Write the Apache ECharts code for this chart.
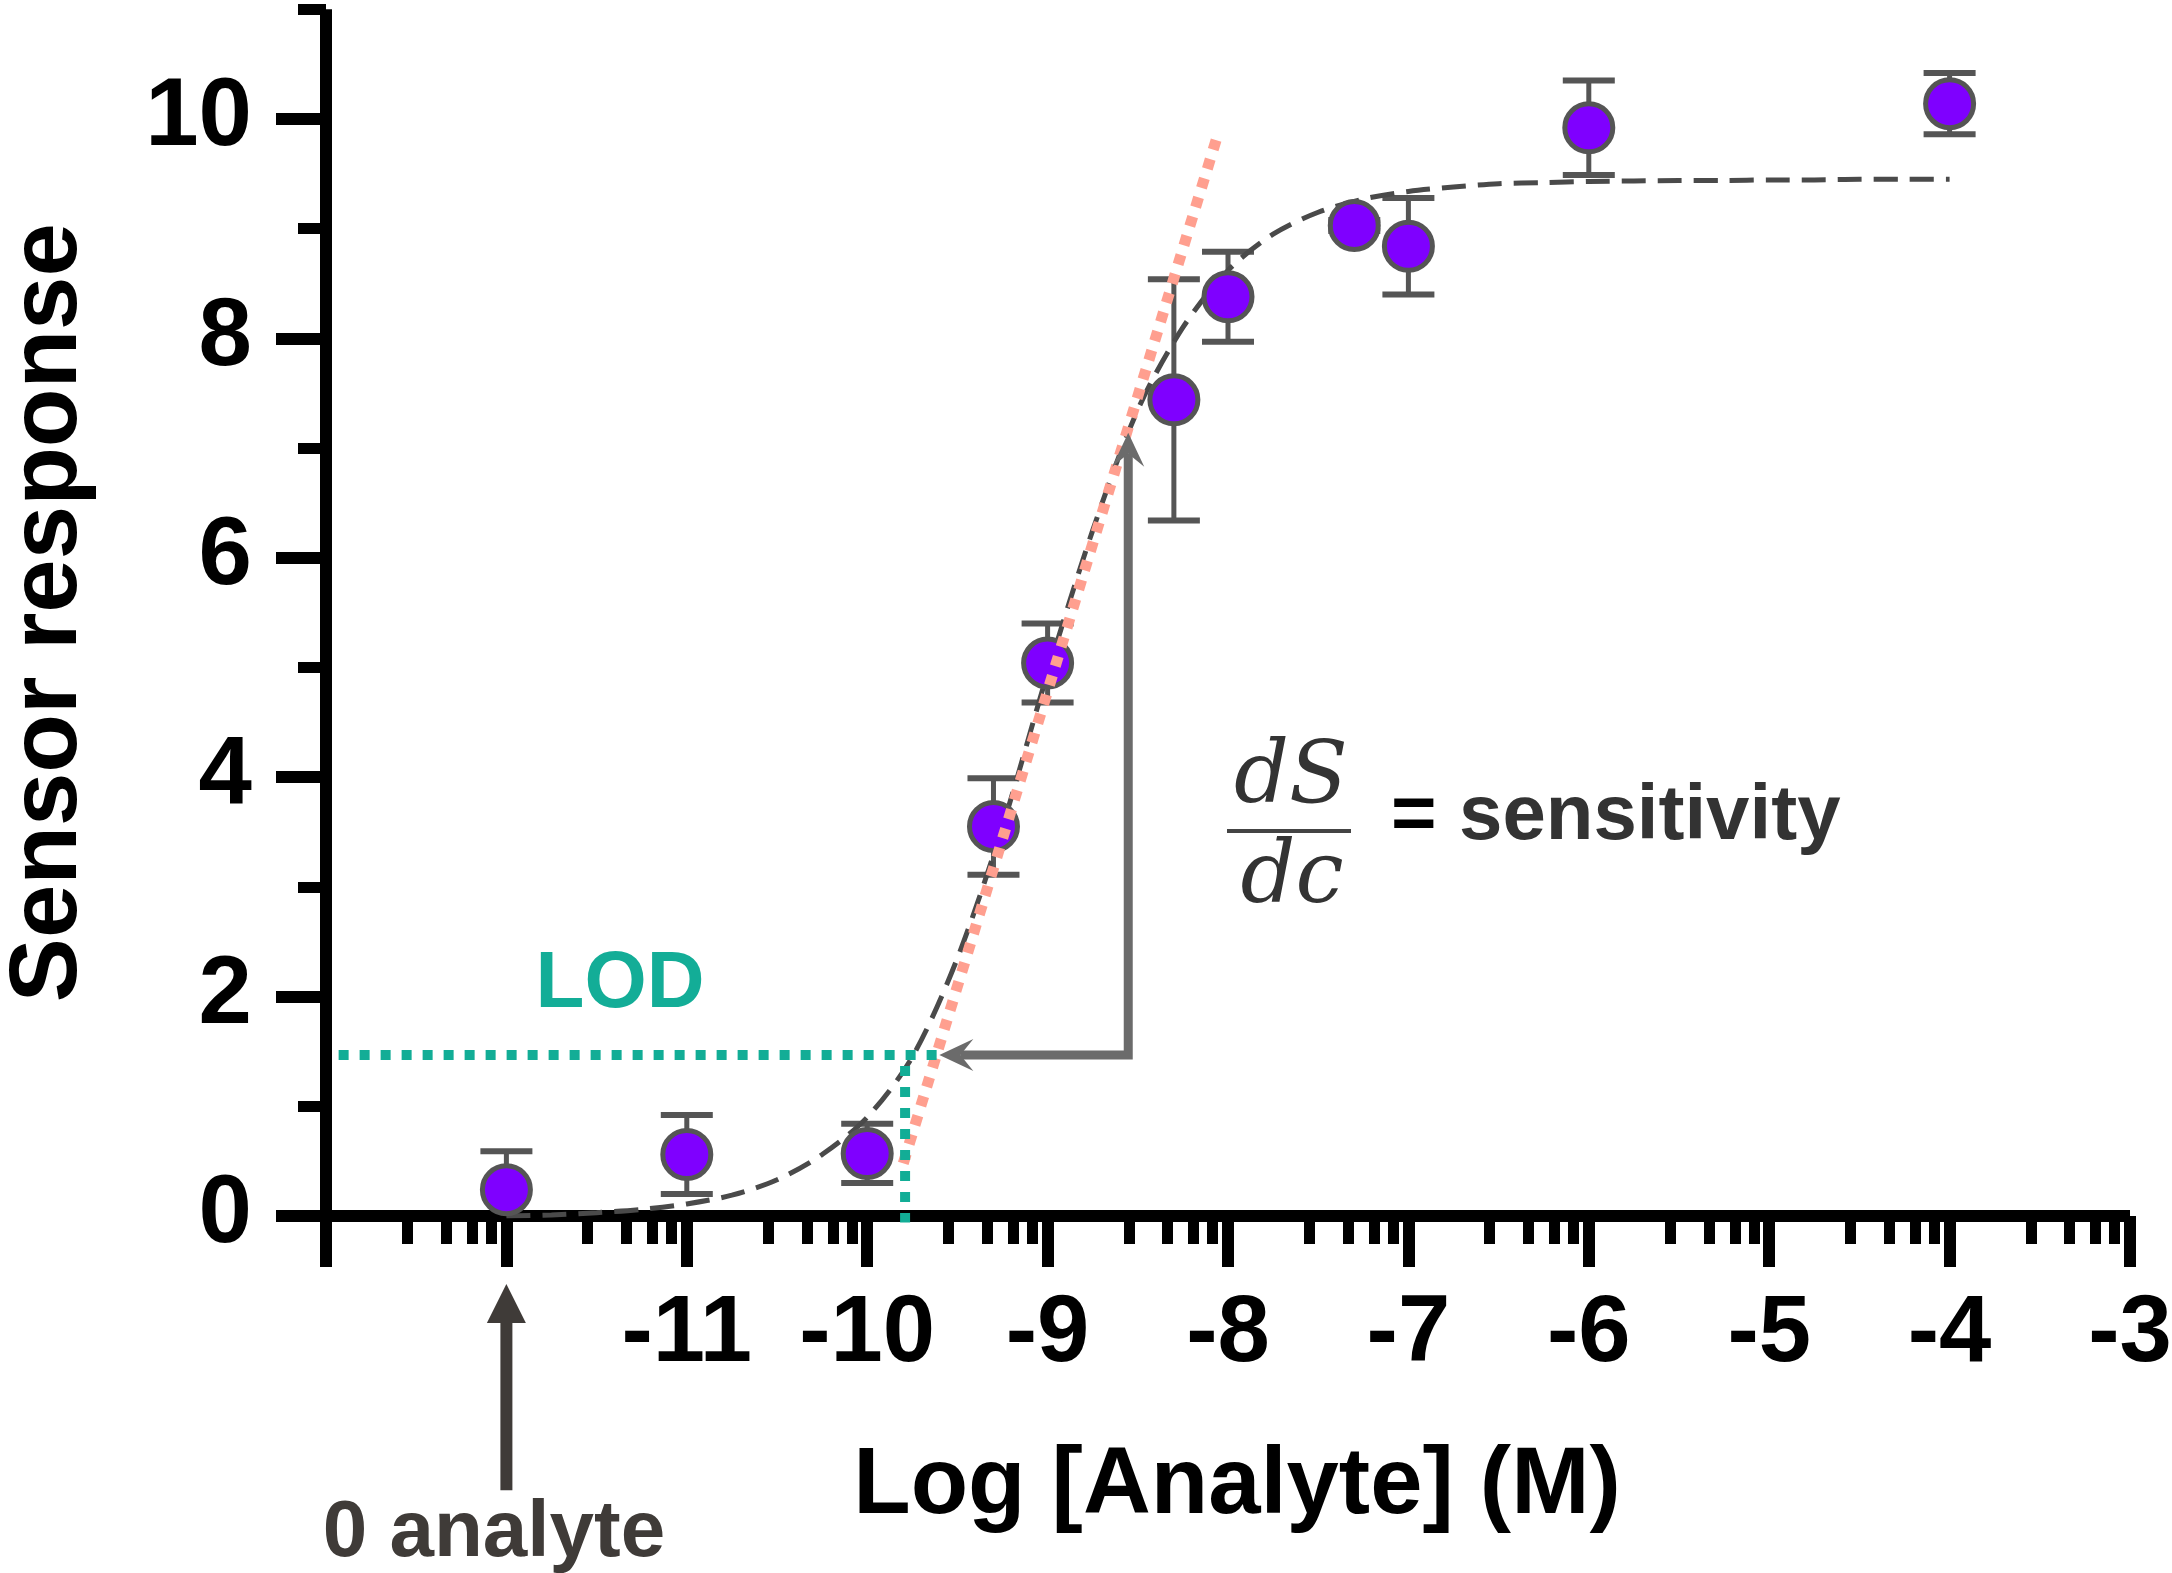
<!DOCTYPE html>
<html>
<head>
<meta charset="utf-8">
<script src="https://cdn.jsdelivr.net/npm/echarts@6/dist/echarts.min.js"></script>
<style>
html,body{margin:0;padding:0;background:#fff;}
#chart{width:2172px;height:1573px;}
</style>
</head>
<body>
<div id="chart"></div>
<script>
// ---------- data ----------
const xMajorTicks = [-13, -12, -11, -10, -9, -8, -7, -6, -5, -4, -3];
const xTickLabels = [-11, -10, -9, -8, -7, -6, -5, -4, -3];
const xMinorOffsets = [0.45, 0.665, 0.81, 0.915];
const yMajorTicks = [0, 2, 4, 6, 8, 10];
const yMinorTicks = [1, 3, 5, 7, 9, 11];

const logConc  = [-12, -11, -10, -9.3, -9, -8.3, -8, -7.3, -7, -6, -4];
const response = [0.24, 0.56, 0.57, 3.55, 5.04, 7.44, 8.38, 9.03, 8.84, 9.92, 10.14];
const errorBar = [0.35, 0.36, 0.27, 0.44, 0.36, 1.10, 0.41, 0.05, 0.44, 0.43, 0.28];

const fitX = [-12, -11.75, -11.5, -11.25, -11, -10.75, -10.5, -10.25, -10, -9.75, -9.5, -9.25, -9, -8.75, -8.5, -8.25, -8, -7.75, -7.5, -7.25, -7, -6.75, -6.5, -6.25, -6, -5.75, -5.5, -5.25, -5, -4.75, -4.5, -4.25, -4];
const fitY = [0.00, 0.01, 0.03, 0.06, 0.11, 0.19, 0.33, 0.56, 0.90, 1.45, 2.35, 3.55, 4.95, 6.25, 7.35, 8.10, 8.62, 8.95, 9.15, 9.27, 9.34, 9.38, 9.41, 9.42, 9.43, 9.435, 9.44, 9.44, 9.445, 9.445, 9.45, 9.45, 9.45];

const lodLevel = 1.468;
const lodConc = -9.79;
const lodLineStartX = -12.93;
const lodLineEndX = -9.61;
const lodDropEndY = -0.06;

const tangentX = [-9.80, -8.06];
const tangentY = [0.48, 9.84];

const sensArrowX = [-9.60, -8.553, -8.553];
const sensArrowY = [1.468, 1.468, 7.14];
const zeroArrowX = [-12, -12];
const zeroArrowY = [-2.50, -0.62];

// ---------- derived ----------
const xMinorTicks = [];
for (let i = 0; i < xMajorTicks.length - 1; i++) {
  xMinorOffsets.forEach(o => xMinorTicks.push(xMajorTicks[i] + o));
}
const pointData = logConc.map((x, i) => [x, response[i]]);
const errData = logConc.map((x, i) => [x, response[i] - errorBar[i], response[i] + errorBar[i]]);
const fitData = fitX.map((x, i) => [x, fitY[i]]);
const tangentData = tangentX.map((x, i) => [x, tangentY[i]]);
const arrows = [
  { pts: sensArrowX.map((x, i) => [x, sensArrowY[i]]), color: '#6b6b6b', width: 9, headStart: true, headEnd: true, kind: 'stealth' },
  { pts: zeroArrowX.map((x, i) => [x, zeroArrowY[i]]), color: '#3f3b38', width: 12, headStart: false, headEnd: true, kind: 'solid' }
];

const FONT = '"Liberation Sans", Arial, Helvetica, sans-serif';
const chart = echarts.init(document.getElementById('chart'), null, { renderer: 'canvas' });

function head(T, P, kind) {
  const dx = T[0] - P[0], dy = T[1] - P[1];
  const len = Math.hypot(dx, dy) || 1;
  const d = [dx / len, dy / len];
  const n = [-d[1], d[0]];
  if (kind === 'solid') {
    const L = 39, W = 19.5;
    return { poly: [T, [T[0] - d[0] * L + n[0] * W, T[1] - d[1] * L + n[1] * W], [T[0] - d[0] * L - n[0] * W, T[1] - d[1] * L - n[1] * W]], back: [T[0] - d[0] * 35, T[1] - d[1] * 35] };
  }
  const L = 34, W = 16, N = 21;
  return { poly: [T, [T[0] - d[0] * L + n[0] * W, T[1] - d[1] * L + n[1] * W], [T[0] - d[0] * N, T[1] - d[1] * N], [T[0] - d[0] * L - n[0] * W, T[1] - d[1] * L - n[1] * W]], back: [T[0] - d[0] * N, T[1] - d[1] * N] };
}

const option = {
  animation: false,
  backgroundColor: '#ffffff',
  grid: { left: 326, right: 42, top: 9.3, bottom: 357, containLabel: false, outerBoundsMode: 'none' },
  xAxis: [
    {
      type: 'value', min: -13, max: -3, interval: 1, position: 'bottom',
      axisLine: { show: true, onZero: false, lineStyle: { color: '#000', width: 12, cap: 'butt' } },
      axisTick: { show: true, customValues: xMajorTicks, length: 51, lineStyle: { color: '#000', width: 12 } },
      axisLabel: { show: true, customValues: xTickLabels, margin: 72, fontSize: 94, fontWeight: 'bold', color: '#000', fontFamily: FONT, hideOverlap: false, showMinLabel: true, showMaxLabel: true },
      splitLine: { show: false },
      name: 'Log [Analyte] (M)', nameLocation: 'middle', nameGap: 224,
      nameTextStyle: { fontSize: 94, fontWeight: 'bold', color: '#000', fontFamily: FONT, padding: [0, 0, 0, 18] }
    },
    {
      type: 'value', min: -13, max: -3, interval: 1, position: 'bottom',
      axisLine: { show: false, onZero: false },
      axisTick: { show: true, customValues: xMinorTicks, length: 28, lineStyle: { color: '#000', width: 11 } },
      axisLabel: { show: false },
      splitLine: { show: false }
    }
  ],
  yAxis: [
    {
      type: 'value', min: 0, max: 11, interval: 1, position: 'left',
      axisLine: { show: true, onZero: false, lineStyle: { color: '#000', width: 12, cap: 'butt' } },
      axisTick: { show: true, customValues: yMajorTicks, length: 50, lineStyle: { color: '#000', width: 12 } },
      axisLabel: { show: true, customValues: yMajorTicks, margin: 74, fontSize: 96, fontWeight: 'bold', color: '#000', fontFamily: FONT, hideOverlap: false, showMinLabel: true, showMaxLabel: true },
      splitLine: { show: false },
      name: 'Sensor response', nameLocation: 'middle', nameGap: 228, nameRotate: 90,
      nameTextStyle: { fontSize: 96, fontWeight: 'bold', color: '#000', fontFamily: FONT }
    },
    {
      type: 'value', min: 0, max: 11, interval: 1, position: 'left',
      axisLine: { show: false, onZero: false },
      axisTick: { show: true, customValues: yMinorTicks, length: 28, lineStyle: { color: '#000', width: 11 } },
      axisLabel: { show: false },
      splitLine: { show: false }
    }
  ],
  series: [
    {
      type: 'custom', name: 'error', xAxisIndex: 0, yAxisIndex: 0, z: 2, clip: true,
      data: errData, encode: { x: 0, y: [1, 2] },
      renderItem: function (params, api) {
        const x = api.value(0), lo = api.value(1), hi = api.value(2);
        const pLo = api.coord([x, lo]), pHi = api.coord([x, hi]);
        const hw = 26;
        const st = { stroke: '#555555', lineWidth: 5, fill: null };
        const cs = { stroke: '#555555', lineWidth: 6, fill: null };
        return {
          type: 'group', children: [
            { type: 'line', shape: { x1: pLo[0], y1: pLo[1], x2: pHi[0], y2: pHi[1] }, style: st },
            { type: 'line', shape: { x1: pHi[0] - hw, y1: pHi[1], x2: pHi[0] + hw, y2: pHi[1] }, style: cs },
            { type: 'line', shape: { x1: pLo[0] - hw, y1: pLo[1], x2: pLo[0] + hw, y2: pLo[1] }, style: cs }
          ]
        };
      }
    },
    {
      type: 'line', name: 'fit', xAxisIndex: 0, yAxisIndex: 0, z: 3,
      data: fitData, smooth: 0.3, symbol: 'none',
      lineStyle: { color: '#4a4a4a', width: 5, type: [24, 12] }
    },
    {
      type: 'scatter', name: 'data', xAxisIndex: 0, yAxisIndex: 0, z: 4,
      data: pointData, symbol: 'circle', symbolSize: 48,
      itemStyle: { color: '#7f00ff', borderColor: '#555555', borderWidth: 5, opacity: 1 }
    },
    {
      type: 'line', name: 'tangent', xAxisIndex: 0, yAxisIndex: 0, z: 5, clip: false,
      data: tangentData, symbol: 'none',
      lineStyle: { color: '#ff9f8f', width: 11, type: [10, 10], cap: 'butt' }
    },
    {
      type: 'line', name: 'lodH', xAxisIndex: 0, yAxisIndex: 0, z: 6, clip: false,
      data: [[lodLineStartX, lodLevel], [lodLineEndX, lodLevel]], symbol: 'none',
      lineStyle: { color: '#12ad96', width: 10, type: [10, 11], cap: 'butt' }
    },
    {
      type: 'line', name: 'lodV', xAxisIndex: 0, yAxisIndex: 0, z: 6, clip: false,
      data: [[lodConc, lodLevel - 0.1], [lodConc, lodDropEndY]], symbol: 'none',
      lineStyle: { color: '#12ad96', width: 10, type: [10, 11], cap: 'butt' }
    },
    {
      type: 'custom', name: 'arrows', xAxisIndex: 0, yAxisIndex: 0, z: 7, clip: false,
      data: arrows.map((a, i) => [a.pts[0][0], a.pts[0][1], i]),
      encode: { x: 0, y: 1 },
      renderItem: function (params, api) {
        const a = arrows[params.dataIndex];
        const px = a.pts.map(p => api.coord(p));
        const children = [];
        const line = px.slice();
        if (a.headEnd) {
          const h = head(px[px.length - 1], px[px.length - 2], a.kind);
          line[line.length - 1] = h.back;
          children.push({ type: 'polygon', shape: { points: h.poly }, style: { fill: a.color, stroke: null } });
        }
        if (a.headStart) {
          const h = head(px[0], px[1], a.kind);
          line[0] = h.back;
          children.push({ type: 'polygon', shape: { points: h.poly }, style: { fill: a.color, stroke: null } });
        }
        children.unshift({ type: 'polyline', shape: { points: line }, style: { stroke: a.color, lineWidth: a.width, fill: null, lineJoin: 'miter' } });
        return { type: 'group', children: children };
      }
    }
  ],
  graphic: [
    { type: 'text', z: 10, style: { text: 'LOD', x: 620, y: 985, fontSize: 80, fontWeight: 'bold', fontFamily: FONT, fill: '#13ad97', align: 'center', verticalAlign: 'middle' } },
    { type: 'text', z: 10, style: { text: '0 analyte', x: 494, y: 1534, fontSize: 80, fontWeight: 'bold', fontFamily: FONT, fill: '#3f3b38', align: 'center', verticalAlign: 'middle' } },
    { type: 'text', z: 10, style: { text: '=', x: 1391, y: 817, fontSize: 78, fontWeight: 'bold', fontFamily: FONT, fill: '#000', align: 'left', verticalAlign: 'middle' } },
    { type: 'text', z: 10, style: { text: 'sensitivity', x: 1459, y: 817, fontSize: 78, fontWeight: 'bold', fontFamily: FONT, fill: '#333333', align: 'left', verticalAlign: 'middle' } },
    { type: 'text', z: 10, style: { text: 'dS', x: 1291, y: 780, fontSize: 86, fontStyle: 'italic', fontFamily: '"DejaVu Serif", "Liberation Serif", serif', fill: '#333333', align: 'center', verticalAlign: 'middle' } },
    { type: 'text', z: 10, style: { text: 'dc', x: 1292, y: 880, fontSize: 86, fontStyle: 'italic', fontFamily: '"DejaVu Serif", "Liberation Serif", serif', fill: '#333333', align: 'center', verticalAlign: 'middle' } },
    { type: 'line', z: 10, shape: { x1: 1227, y1: 831, x2: 1351, y2: 831 }, style: { stroke: '#444444', lineWidth: 4 } }
  ]
};
chart.setOption(option);
</script>
</body>
</html>
